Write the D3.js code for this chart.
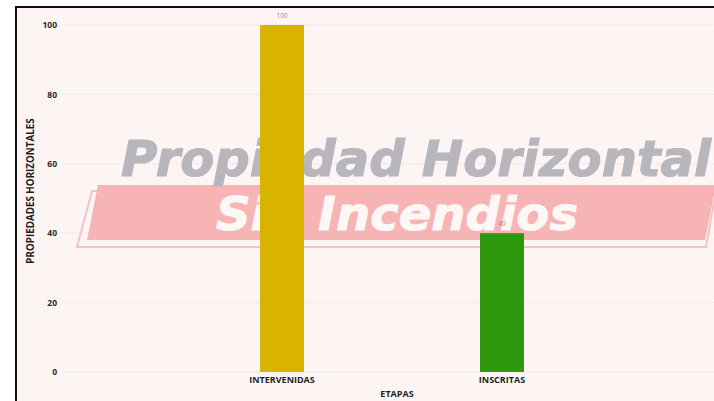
<!DOCTYPE html>
<html>
<head>
<meta charset="utf-8">
<script src="https://cdn.jsdelivr.net/npm/d3@7"></script>
<style>
  html, body { margin: 0; padding: 0; background: #ffffff; }
  svg { display: block; }
</style>
</head>
<body>
<div id="chart"></div>
<script>
// bar chart: propiedades horizontales por etapa

const categories = ["INTERVENIDAS", "INSCRITAS"];
const values = [100, 40];
const barColors = ["#d8b400", "#2f980c"];
const yTicks = [0, 20, 40, 60, 80, 100];
const yTitle = "PROPIEDADES HORIZONTALES";
const xTitle = "ETAPAS";
const watermarkTop = "Propiedad Horizontal";
const watermarkBottom = "Sin Incendios";

const width = 714, height = 401;
const frame = {left: 16, top: 7};
const plot = {left: 62, right: 722, top: 25, bottom: 372};

const svg = d3.select("#chart")
    .append("svg")
    .attr("width", width)
    .attr("height", height);

// panel background + frame
svg.append("rect")
    .attr("x", frame.left).attr("y", frame.top)
    .attr("width", width - frame.left + 4).attr("height", height)
    .attr("fill", "#fdf5f4")
    .attr("stroke", "#111")
    .attr("stroke-width", 2);

// scales
const x = d3.scaleBand()
    .domain(categories)
    .range([plot.left, plot.right])
    .paddingInner(0.8)
    .paddingOuter(0.9);

const y = d3.scaleLinear()
    .domain([0, 100])
    .range([plot.bottom, plot.top]);

// gridlines
svg.append("g")
    .selectAll("line")
    .data(yTicks)
    .enter().append("line")
    .attr("x1", plot.left)
    .attr("x2", width)
    .attr("y1", d => y(d))
    .attr("y2", d => y(d))
    .attr("stroke", "#e4d9d9")
    .attr("stroke-width", 1)
    .attr("stroke-dasharray", "1,1");

// watermark (sits behind the bars)
const wm = svg.append("g");
wm.append("path")
    .attr("d", "M92,191 L716,191 L706,247 L77,247 Z")
    .attr("fill", "none")
    .attr("stroke", "#f3c3c3")
    .attr("stroke-width", 2);
wm.append("path")
    .attr("d", "M98,185 L716,185 L705,240 L87,240 Z")
    .attr("fill", "#f6b4b5");
wm.append("text")
    .attr("x", 121).attr("y", 176)
    .attr("textLength", 590)
    .attr("lengthAdjust", "spacingAndGlyphs")
    .style("font-family", "'DejaVu Sans', sans-serif")
    .style("font-weight", 700)
    .style("font-style", "italic")
    .style("font-size", "50px")
    .attr("fill", "#b8b6bd")
    .attr("stroke", "#b8b6bd")
    .attr("stroke-width", 1.2)
    .text(watermarkTop);
wm.append("text")
    .attr("x", 216).attr("y", 230)
    .attr("textLength", 362)
    .attr("lengthAdjust", "spacingAndGlyphs")
    .style("font-family", "'DejaVu Sans', sans-serif")
    .style("font-weight", 700)
    .style("font-style", "italic")
    .style("font-size", "47px")
    .attr("fill", "#fdf7f6")
    .attr("stroke", "#fdf7f6")
    .attr("stroke-width", 1)
    .text(watermarkBottom);

// y axis
const yAxis = svg.append("g")
    .attr("transform", "translate(" + (plot.left - 5) + ",0)")
    .call(d3.axisLeft(y).tickValues(yTicks).tickSize(0).tickPadding(0));
yAxis.select(".domain").remove();
yAxis.selectAll("text")
    .style("font-family", "'Open Sans', sans-serif")
    .style("font-weight", 700)
    .style("font-size", "8.5px")
    .attr("fill", "#2a2a2a");

// x axis
const xAxis = svg.append("g")
    .attr("transform", "translate(0," + plot.bottom + ")")
    .call(d3.axisBottom(x).tickSize(0).tickPadding(5));
xAxis.select(".domain").remove();
xAxis.selectAll("text")
    .style("font-family", "'Open Sans', sans-serif")
    .style("font-weight", 700)
    .style("font-size", "9px")
    .attr("fill", "#1e1e1e");

// bars
svg.selectAll("rect.bar")
    .data(values)
    .enter().append("rect")
    .attr("class", "bar")
    .attr("x", (d, i) => x(categories[i]))
    .attr("y", d => y(d))
    .attr("width", x.bandwidth())
    .attr("height", d => y(0) - y(d))
    .attr("fill", (d, i) => barColors[i]);

// value labels
svg.selectAll("text.val")
    .data(values)
    .enter().append("text")
    .attr("class", "val")
    .attr("x", (d, i) => x(categories[i]) + x.bandwidth() / 2)
    .attr("y", d => y(d) - 7)
    .attr("text-anchor", "middle")
    .style("font-family", "'Open Sans', sans-serif")
    .style("font-size", "6.5px")
    .attr("fill", "#8f8f8f")
    .text(d => d);

// axis titles
svg.append("text")
    .attr("x", 397).attr("y", 397)
    .attr("text-anchor", "middle")
    .style("font-family", "'Open Sans', sans-serif")
    .style("font-weight", 700)
    .style("font-size", "9px")
    .attr("fill", "#1e1e1e")
    .text(xTitle);

svg.append("text")
    .attr("transform", "translate(34,191) rotate(-90)")
    .attr("text-anchor", "middle")
    .style("font-family", "'Open Sans', sans-serif")
    .style("font-weight", 700)
    .style("font-size", "9.8px")
    .attr("fill", "#1e1e1e")
    .text(yTitle);
</script>
</body>
</html>
